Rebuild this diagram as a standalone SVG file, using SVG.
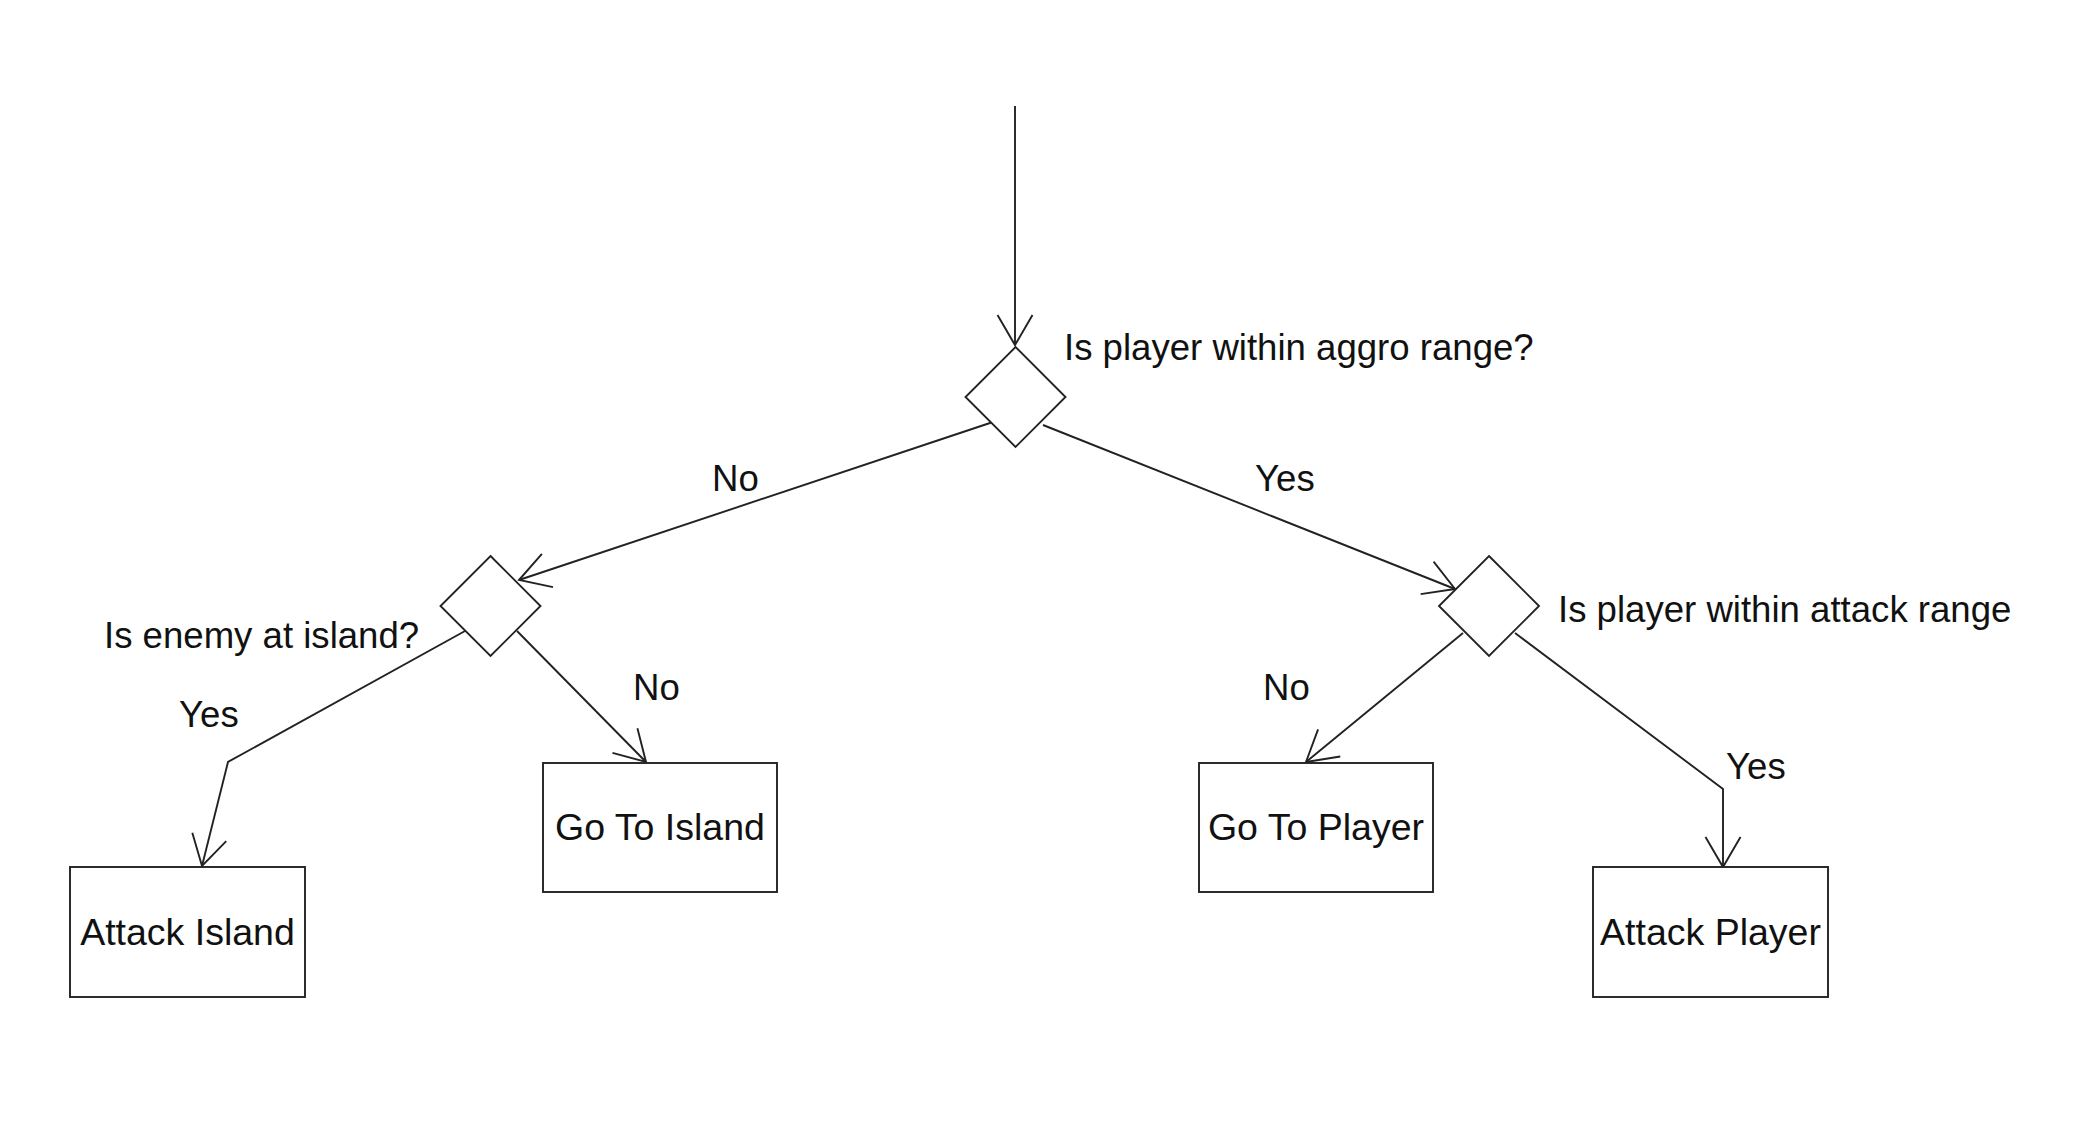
<svg xmlns="http://www.w3.org/2000/svg" width="2081" height="1124" viewBox="0 0 2081 1124">
<style>
.shape{fill:#fff;stroke:#222;stroke-width:1.9}
.conn{fill:none;stroke:#222;stroke-width:1.9}
text{font-family:"Liberation Sans",Arial,sans-serif;font-size:36.6px;fill:#111}
.c{text-anchor:middle;font-size:37.5px}
</style>
<defs>
<marker id="arr" markerUnits="userSpaceOnUse" markerWidth="40" markerHeight="40" refX="0" refY="0" orient="auto" overflow="visible">
<path d="M-30,-17.5 L0,0 L-30,17.5" fill="none" stroke="#222" stroke-width="1.9"/>
</marker>
</defs>
<rect width="2081" height="1124" fill="#fff"/>
<g id="connectors">
<path class="conn" d="M1015,106 L1015,345" marker-end="url(#arr)"/>
<path class="conn" d="M993,422 L519,580" marker-end="url(#arr)"/>
<path class="conn" d="M1043,425 L1455,589" marker-end="url(#arr)"/>
<path class="conn" d="M465,631 L228,762 L202,866" marker-end="url(#arr)"/>
<path class="conn" d="M517,631 L646,762" marker-end="url(#arr)"/>
<path class="conn" d="M1463,633 L1306,762" marker-end="url(#arr)"/>
<path class="conn" d="M1515,633 L1723,789 L1723,867" marker-end="url(#arr)"/>
<text x="712" y="491">No</text>
<text x="1255" y="491">Yes</text>
<text x="179" y="727">Yes</text>
<text x="633" y="700">No</text>
<text x="1263" y="700">No</text>
<text x="1726" y="779">Yes</text>
</g>
<g id="d-aggro">
<polygon class="shape" points="1015.5,347 1065.5,397 1015.5,447 965.5,397"/>
<text x="1064" y="360">Is player within aggro range?</text>
</g>
<g id="d-island">
<polygon class="shape" points="490.5,556 540.5,606 490.5,656 440.5,606"/>
<text x="104" y="648">Is enemy at island?</text>
</g>
<g id="d-attack">
<polygon class="shape" points="1489,556 1539,606 1489,656 1439,606"/>
<text x="1558" y="622">Is player within attack range</text>
</g>
<g id="attack-island">
<rect class="shape" x="70" y="867" width="235" height="130"/>
<text class="c" x="187.5" y="945">Attack Island</text>
</g>
<g id="go-to-island">
<rect class="shape" x="543" y="763" width="234" height="129"/>
<text class="c" x="660" y="840">Go To Island</text>
</g>
<g id="go-to-player">
<rect class="shape" x="1199" y="763" width="234" height="129"/>
<text class="c" x="1316" y="840">Go To Player</text>
</g>
<g id="attack-player">
<rect class="shape" x="1593" y="867" width="235" height="130"/>
<text class="c" x="1710.5" y="945">Attack Player</text>
</g>
</svg>
